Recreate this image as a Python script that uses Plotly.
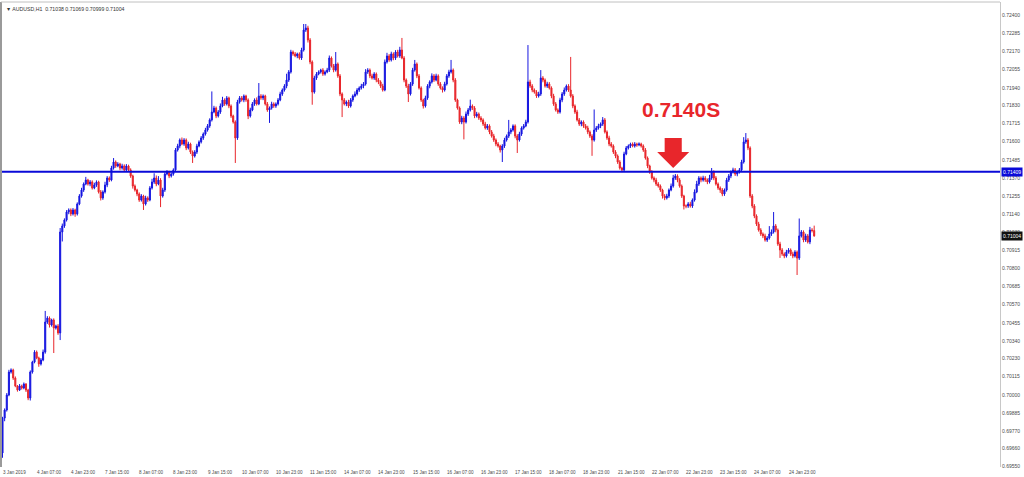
import plotly.graph_objects as go
import pandas as pd

# ---------------- data (prices in points, 1 point = 0.00001) ----------------
symbol = "AUDUSD,H1"
first_time = "2019-01-03 15:00"
first_open_pts = 69632

close_pts = [
    69853, 69904, 69999, 70144, 70157, 70106, 70056, 70030, 70056, 70043, 70068, 70030, 69980, 70144, 70207, 70270,
    70233, 70195, 70220, 70270, 70460, 70485, 70441, 70473, 70422, 70435, 70391, 71029, 71067, 71105, 71155, 71168,
    71143, 71168, 71143, 71206, 71256, 71294, 71332, 71357, 71332, 71345, 71307, 71326, 71345, 71282, 71244, 71282,
    71326, 71370, 71357, 71433, 71471, 71446, 71458, 71433, 71446, 71421, 71446, 71421, 71383, 71319, 71294, 71269,
    71231, 71256, 71206, 71244, 71231, 71307, 71345, 71370, 71332, 71357, 71256, 71294, 71395, 71408, 71383, 71395,
    71421, 71547, 71572, 71610, 71585, 71610, 71560, 71585, 71534, 71509, 71534, 71572, 71598, 71623, 71648, 71673,
    71699, 71737, 71787, 71812, 71762, 71787, 71825, 71863, 71838, 71876, 71825, 71762, 71724, 71623, 71850, 71876,
    71863, 71888, 71863, 71762, 71800, 71838, 71863, 71838, 71888, 71876, 71888, 71838, 71800, 71812, 71838, 71825,
    71838, 71863, 71901, 71926, 71951, 71989, 72040, 72166, 72154, 72141, 72154, 72128, 72179, 72305, 72318, 72242,
    72103, 71913, 72002, 72027, 72040, 72052, 72027, 72040, 72052, 72128, 72078, 72052, 72090, 72015, 71901, 71863,
    71838, 71850, 71825, 71863, 71888, 71901, 71926, 71939, 71951, 71964, 72040, 72052, 72015, 72002, 72027, 71989,
    71977, 71951, 71926, 72103, 72141, 72116, 72154, 72128, 72166, 72141, 72179, 72128, 71989, 71951, 71901, 71964,
    72052, 72090, 72015, 71939, 71863, 71825, 71876, 71951, 71977, 72015, 71989, 72015, 71964, 71939, 71926, 71964,
    72015, 72040, 72052, 71989, 71863, 71812, 71724, 71749, 71724, 71774, 71800, 71825, 71812, 71762, 71774, 71749,
    71737, 71711, 71686, 71699, 71661, 71635, 71610, 71585, 71572, 71547, 71572, 71610, 71635, 71661, 71673, 71699,
    71635, 71610, 71648, 71686, 71699, 71724, 71977, 71951, 71926, 71913, 71888, 71901, 72002, 71989, 71951, 71964,
    71939, 71888, 71838, 71800, 71787, 71863, 71901, 71926, 71951, 71926, 71888, 71825, 71787, 71737, 71711, 71724,
    71699, 71686, 71661, 71635, 71610, 71673, 71686, 71699, 71711, 71737, 71661, 71623, 71585, 71572, 71534, 71509,
    71471, 71433, 71421, 71522, 71560, 71572, 71585, 71572, 71585, 71579, 71585, 71572, 71547, 71496, 71446, 71408,
    71370, 71357, 71332, 71319, 71294, 71256, 71244, 71256, 71294, 71319, 71370, 71383, 71357, 71319, 71256, 71193,
    71193, 71206, 71193, 71231, 71282, 71332, 71370, 71357, 71370, 71357, 71345, 71370, 71408, 71370, 71332, 71307,
    71294, 71269, 71294, 71357, 71383, 71408, 71421, 71395, 71408, 71421, 71471, 71598, 71610, 71560, 71256, 71193,
    71130, 71079, 71041, 71016, 71004, 70978, 70991, 71016, 71029, 71067, 71041, 70953, 70915, 70890, 70877, 70902,
    70915, 70890, 70877, 70902, 70864, 71004, 71029, 70978, 71004, 70966, 71041, 71038, 71004,
]

up_wick_pts = [
    8, 10, 12, 14, 10, 8, 10, 6, 12, 8, 10, 6, 8, 10, 8, 12,
    10, 8, 12, 16, 70, 12, 10, 8, 10, 8, 12, 25, 15, 10, 12, 10,
    10, 12, 8, 10, 12, 14, 10, 20, 8, 12, 10, 14, 10, 8, 12, 10,
    20, 12, 10, 14, 25, 10, 12, 8, 14, 10, 12, 8, 10, 8, 10, 8,
    10, 12, 8, 14, 10, 12, 20, 30, 16, 25, 12, 14, 10, 12, 8, 10,
    10, 12, 14, 10, 16, 12, 10, 14, 8, 10, 12, 14, 10, 12, 10, 14,
    12, 10, 130, 14, 10, 12, 16, 20, 10, 12, 8, 10, 8, 10, 14, 12,
    12, 10, 8, 10, 14, 12, 10, 16, 82, 12, 10, 8, 12, 10, 14, 10,
    10, 12, 14, 10, 12, 40, 12, 14, 10, 12, 8, 10, 14, 38, 25, 14,
    12, 10, 14, 12, 10, 8, 12, 10, 14, 16, 10, 12, 76, 10, 12, 10,
    12, 10, 14, 12, 10, 16, 12, 10, 14, 12, 18, 12, 10, 14, 12, 10,
    12, 10, 14, 16, 20, 12, 14, 10, 12, 14, 20, 76, 12, 10, 14, 12,
    14, 26, 10, 12, 10, 8, 14, 12, 10, 16, 12, 14, 10, 12, 10, 14,
    12, 14, 64, 10, 12, 8, 10, 14, 12, 16, 12, 40, 10, 12, 14, 10,
    12, 10, 14, 12, 10, 12, 14, 10, 12, 8, 12, 14, 10, 76, 12, 10,
    10, 12, 14, 10, 12, 14, 233, 14, 12, 10, 12, 14, 50, 12, 10, 14,
    12, 10, 14, 12, 10, 14, 12, 16, 10, 12, 209, 12, 10, 14, 12, 10,
    10, 12, 14, 10, 12, 130, 12, 14, 10, 18, 12, 10, 14, 12, 10, 12,
    10, 12, 8, 14, 12, 10, 8, 10, 12, 8, 10, 8, 10, 12, 10, 8,
    12, 10, 14, 12, 10, 8, 12, 14, 10, 16, 20, 12, 10, 12, 10, 8,
    10, 12, 14, 10, 16, 20, 12, 10, 14, 12, 10, 20, 25, 10, 12, 10,
    10, 12, 10, 14, 12, 10, 14, 12, 10, 12, 14, 30, 44, 12, 10, 12,
    12, 10, 14, 12, 10, 14, 12, 50, 16, 88, 12, 10, 14, 12, 10, 14,
    12, 10, 14, 12, 10, 110, 12, 10, 14, 12, 20, 12, 31,
]

dn_wick_pts = [
    30, 20, 10, 8, 10, 12, 8, 10, 6, 10, 8, 12, 14, 16, 10, 8,
    8, 18, 10, 8, 10, 12, 16, 10, 158, 10, 12, 45, 60, 12, 10, 14,
    14, 10, 18, 10, 8, 10, 12, 8, 10, 14, 10, 8, 12, 10, 16, 12,
    10, 14, 12, 8, 10, 12, 8, 14, 10, 8, 12, 10, 12, 16, 10, 14,
    12, 10, 38, 10, 12, 8, 10, 12, 14, 8, 70, 10, 12, 8, 14, 10,
    10, 12, 10, 14, 8, 12, 14, 10, 12, 44, 10, 12, 8, 10, 12, 10,
    10, 12, 10, 8, 14, 10, 12, 8, 12, 10, 14, 12, 10, 158, 12, 10,
    10, 14, 12, 20, 10, 8, 12, 10, 8, 12, 14, 10, 12, 82, 10, 12,
    12, 10, 8, 12, 10, 14, 12, 10, 12, 8, 14, 10, 12, 10, 12, 16,
    14, 80, 10, 12, 8, 10, 12, 10, 8, 12, 10, 14, 10, 12, 14, 108,
    10, 14, 12, 10, 12, 8, 10, 12, 10, 14, 10, 12, 14, 10, 12, 14,
    14, 12, 10, 8, 10, 12, 10, 14, 12, 10, 12, 8, 14, 12, 51, 10,
    12, 10, 14, 10, 12, 16, 10, 12, 14, 10, 12, 8, 12, 10, 16, 10,
    10, 12, 10, 14, 12, 10, 12, 14, 110, 10, 12, 10, 12, 14, 10, 12,
    14, 12, 10, 12, 14, 10, 12, 14, 10, 16, 76, 12, 10, 12, 14, 10,
    14, 82, 10, 12, 10, 8, 10, 12, 14, 10, 12, 10, 12, 14, 10, 12,
    10, 14, 12, 10, 12, 10, 14, 12, 10, 12, 10, 14, 12, 10, 12, 14,
    12, 10, 14, 12, 100, 10, 12, 10, 14, 12, 10, 12, 14, 10, 12, 14,
    12, 10, 14, 10, 8, 10, 12, 8, 10, 12, 8, 10, 12, 10, 14, 12,
    10, 14, 12, 10, 12, 16, 14, 10, 12, 8, 10, 12, 14, 10, 12, 22,
    14, 12, 10, 12, 10, 8, 12, 14, 10, 12, 14, 10, 12, 14, 10, 12,
    18, 14, 12, 10, 12, 14, 10, 12, 14, 10, 12, 10, 12, 14, 12, 14,
    14, 12, 10, 12, 14, 10, 12, 10, 12, 10, 14, 12, 50, 12, 14, 10,
    10, 12, 14, 10, 107, 12, 10, 14, 12, 10, 14, 12, 5,
]

price_ticks = [0.72400, 0.72285, 0.72170, 0.72055, 0.71940, 0.71830, 0.71715, 0.71600,
               0.71485, 0.71370, 0.71255, 0.71140, 0.71030, 0.70915, 0.70800, 0.70685,
               0.70570, 0.70455, 0.70340, 0.70230, 0.70115, 0.70000, 0.69885, 0.69770,
               0.69660, 0.69550]

level_price = 0.71409
level_note = "0.7140S"
note_bar, note_price = 317.5, 0.71800
arrow_bar, arrow_tip_price = 314.0, 0.71433
label_every = 16

# ---------------- derived series ----------------
P = 1e-5
n = len(close_pts)
closes = [c * P for c in close_pts]
opens = [first_open_pts * P] + closes[:-1]
highs = [max(o, c) + u * P for o, c, u in zip(opens, closes, up_wick_pts)]
lows = [min(o, c) - d * P for o, c, d in zip(opens, closes, dn_wick_pts)]

times = []
t = pd.Timestamp(first_time)
while len(times) < n:
    if t.weekday() < 5:
        times.append(t)
    t += pd.Timedelta(hours=1)

bars = list(range(n))

BLUE = "#1616e0"
RED = "#e8262b"
LINE_BLUE = "#0a0ad8"
TXT = "#4a4a4a"
FONT = "Liberation Sans, Arial, sans-serif"

fig = go.Figure()
fig.add_trace(go.Candlestick(
    x=bars, open=opens, high=highs, low=lows, close=closes,
    increasing=dict(line=dict(color=BLUE, width=1), fillcolor=BLUE),
    decreasing=dict(line=dict(color=RED, width=1), fillcolor=RED),
    whiskerwidth=0, showlegend=False, hoverinfo="skip",
))

px_per_bar = 2.136
plot_w = 999
x0 = -1.5 / px_per_bar
x1 = x0 + plot_w / px_per_bar

fig.update_layout(
    width=1024, height=477,
    margin=dict(l=1, r=24, t=2, b=10),
    paper_bgcolor="white", plot_bgcolor="white",
    showlegend=False,
    xaxis=dict(range=[x0, x1], showticklabels=False, showgrid=False, zeroline=False,
               rangeslider=dict(visible=False), showline=False, fixedrange=True),
    yaxis=dict(side="right", range=[0.695438, 0.724821], showgrid=False, zeroline=False,
               tickvals=price_ticks, ticktext=[f"{v:.5f}" for v in price_ticks],
               tickfont=dict(family=FONT, size=5, color=TXT), ticks="", ticklen=0,
               showline=True, linecolor="#c8c8c8", linewidth=1, fixedrange=True),
)

annotations = []
for i in range(0, n, label_every):
    tt = times[i]
    txt = f"{tt.day} {tt:%b} {tt.year}" if i == 0 else f"{tt.day} {tt:%b %H:%M}"
    annotations.append(dict(x=i, y=0, xref="x", yref="paper", text=txt, showarrow=False,
                            xanchor="left", yanchor="top", yshift=-1, xshift=-2,
                            font=dict(family=FONT, size=4.6, color=TXT)))

header = (f"\u25BC {symbol}  {opens[-1]:.5f} {highs[-1]:.5f} {lows[-1]:.5f} {closes[-1]:.5f}")
annotations.append(dict(x=0, y=1, xref="paper", yref="paper", text=header, showarrow=False,
                        xanchor="left", yanchor="top", xshift=3, yshift=-2,
                        font=dict(family=FONT, size=5.2, color="#333")))

annotations.append(dict(x=1, y=level_price, xref="paper", yref="y", text=f"{level_price:.5f}",
                        showarrow=False, xanchor="left", yanchor="middle", xshift=1,
                        bgcolor=LINE_BLUE, borderpad=1, font=dict(family=FONT, size=5, color="white")))
annotations.append(dict(x=1, y=closes[-1], xref="paper", yref="y", text=f"{closes[-1]:.5f}",
                        showarrow=False, xanchor="left", yanchor="middle", xshift=1,
                        bgcolor="#111111", borderpad=1, font=dict(family=FONT, size=5, color="white")))

annotations.append(dict(x=note_bar, y=note_price, xref="x", yref="y", text=f"<b>{level_note}</b>",
                        showarrow=False, xanchor="center", yanchor="middle",
                        font=dict(family="Liberation Sans, Arial, sans-serif", size=21, color=RED)))
fig.update_layout(annotations=annotations)

# arrow (in bar / price units)
stem_half, head_half = 4.0, 7.5
stem_top, neck = arrow_tip_price + 0.00190, arrow_tip_price + 0.00101
ax = arrow_bar
arrow_path = (f"M {ax - stem_half},{stem_top} L {ax + stem_half},{stem_top} "
              f"L {ax + stem_half},{neck} L {ax + head_half},{neck} L {ax},{arrow_tip_price} "
              f"L {ax - head_half},{neck} L {ax - stem_half},{neck} Z")

shapes = [
    dict(type="line", xref="paper", yref="y", x0=0, x1=1, y0=level_price, y1=level_price,
         line=dict(color=LINE_BLUE, width=2), layer="above"),
    dict(type="path", xref="x", yref="y", path=arrow_path, fillcolor=RED,
         line=dict(width=0), layer="above"),
    dict(type="line", xref="paper", yref="paper", x0=0, x1=0, y0=0, y1=1,
         line=dict(color="#9a9a9a", width=2)),
    dict(type="line", xref="paper", yref="paper", x0=0, x1=1, y0=1, y1=1,
         line=dict(color="#c0c0c0", width=1)),
]
fig.update_layout(shapes=shapes)

fig.write_html("out.html", config={"displayModeBar": False},
               post_script="document.body.style.margin='0';document.body.style.overflow='hidden';")
